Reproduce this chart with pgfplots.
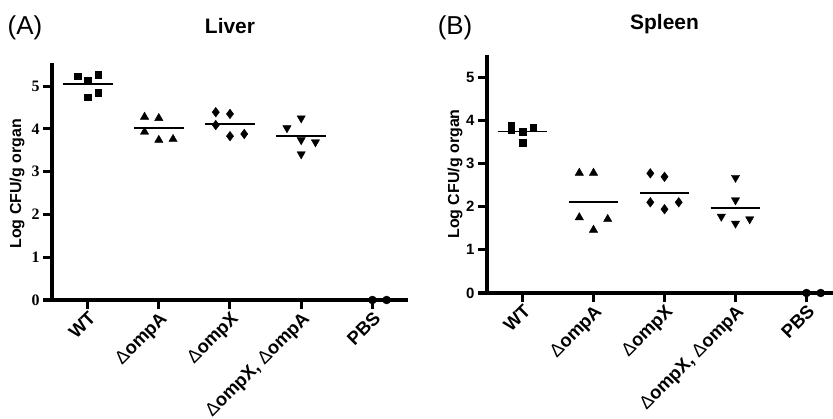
\documentclass[border=0pt]{standalone}
\usepackage{pgfplots}
\pgfplotsset{compat=1.18}
\usepackage{fontspec}
\setmainfont{Liberation Sans}
\newfontfamily\timesf{Liberation Serif}
\newcommand\dlt{{\mdseries Δ}}

\pgfplotsset{
  dotplot/.style={
    scale only axis,
    xmin=-0.5, xmax=4.5, ymin=0,
    axis x line*=bottom, axis y line*=left,
    tick align=outside, major tick length=9bp,
    xtick={0,...,4}, ytick={0,...,5},
    xticklabels={WT,\dlt ompA,\dlt ompX,{\dlt ompX, \dlt ompA},PBS},
    xticklabel style={rotate=45, anchor=north east, inner sep=1bp,
      font=\bfseries\fontsize{18.5}{22}\selectfont},
    /pgf/number format/assume math mode=true,
    ylabel={Log CFU/g organ},
    ylabel style={font=\bfseries\fontsize{16}{19}\selectfont, anchor=center},
    title style={font=\bfseries\fontsize{21}{25}\selectfont, anchor=center},
    clip=false,
  },
  sq/.style={only marks, mark=square*, mark size=3.4bp, black},
  tri/.style={only marks, mark=triangle*, mark size=4.8bp, black},
  dia/.style={only marks, mark=diamond*, mark size=4.8bp, black},
  itri/.style={only marks, mark=triangle*, mark size=4.8bp, black, mark options={rotate=180}},
  circ/.style={only marks, mark=*, mark size=4bp, black},
  mean/.style={black, line width=1.9bp, no marks},
}

\begin{document}
\begin{tikzpicture}
\path[use as bounding box] (0,0) rectangle (833bp,419bp);
\clip (0,0) rectangle (833bp,419bp);

% (A) Liver
\begin{axis}[dotplot, at={(52bp,119bp)}, anchor=south west,
    axis line style={line width=3.3bp, black},
    tick style={line width=3bp, black},
    width=356bp, height=237bp, ymax=5.54,
    yticklabel style={font=\timesf\bfseries\fontsize{16}{18}\selectfont},
    ylabel style={at={(axis description cs:-0.098,0.49)}},
    title={Liver}, title style={at={(axis description cs:0.5,1.13)}}]
  \addplot[sq] coordinates {(-0.14,5.23) (0,5.14) (0.15,5.26) (0,4.74) (0.15,4.84)};
  \addplot[tri] coordinates {(0.8,4.28) (1,4.25) (0.8,3.93) (1,3.74) (1.2,3.76)};
  \addplot[dia] coordinates {(1.8,4.39) (2,4.35) (1.8,4.09) (2,3.83) (2.2,3.88)};
  \addplot[itri] coordinates {(2.8,4.02) (3,4.25) (3,3.74) (3.2,3.69) (3,3.41)};
  \addplot[circ] coordinates {(4,0) (4.2,0)};
  \addplot[mean] coordinates {(-0.35,5.04) (0.35,5.04)};
  \addplot[mean] coordinates {(0.65,4.02) (1.35,4.02)};
  \addplot[mean] coordinates {(1.65,4.11) (2.35,4.11)};
  \addplot[mean] coordinates {(2.65,3.83) (3.35,3.83)};
  \node[font=\fontsize{26}{30}\selectfont] at (axis description cs:-0.076,1.148) {(A)};
\end{axis}

% (B) Spleen
\begin{axis}[dotplot, at={(487bp,126bp)}, anchor=south west,
    axis line style={line width=3.3bp, black},
    tick style={line width=3bp, black},
    width=355bp, height=238bp, ymax=5.51,
    yticklabel style={font=\bfseries\fontsize{15}{18}\selectfont},
    ylabel style={at={(axis description cs:-0.09,0.5)}},
    title={Spleen}, title style={at={(axis description cs:0.5,1.105)}}]
  \addplot[sq] coordinates {(-0.16,3.87) (-0.16,3.77) (0,3.73) (0,3.48) (0.15,3.84)};
  \addplot[tri] coordinates {(0.8,2.78) (1,2.78) (0.8,1.75) (1,1.46) (1.2,1.71)};
  \addplot[dia] coordinates {(1.8,2.77) (2,2.69) (1.8,2.10) (2,1.94) (2.2,2.10)};
  \addplot[itri] coordinates {(3,2.67) (3,2.15) (2.8,1.77) (3,1.61) (3.2,1.71)};
  \addplot[circ] coordinates {(4,0) (4.2,0)};
  \addplot[mean] coordinates {(-0.35,3.74) (0.35,3.74)};
  \addplot[mean] coordinates {(0.65,2.11) (1.35,2.11)};
  \addplot[mean] coordinates {(1.65,2.32) (2.35,2.32)};
  \addplot[mean] coordinates {(2.65,1.97) (3.35,1.97)};
  \node[font=\fontsize{26}{30}\selectfont] at (axis description cs:-0.09,1.113) {(B)};
\end{axis}
\end{tikzpicture}
\end{document}
